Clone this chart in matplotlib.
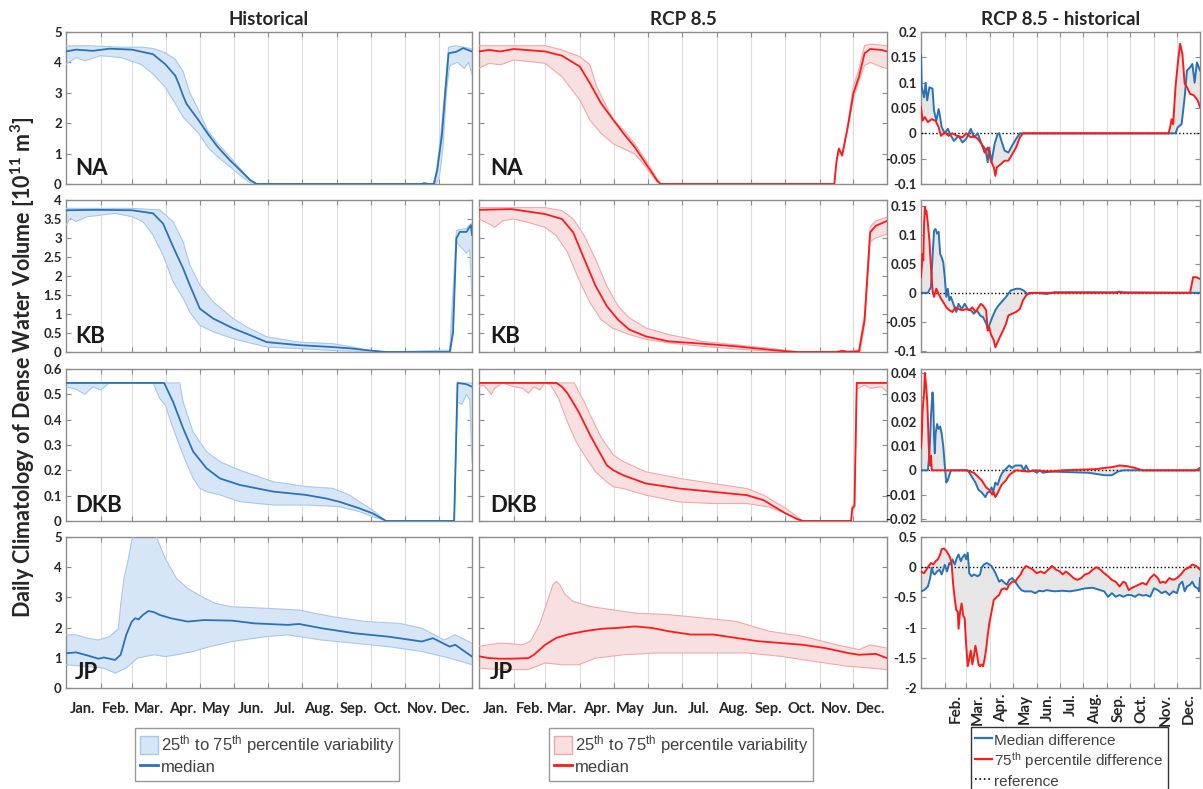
import numpy as np
import matplotlib
matplotlib.use("Agg")
import matplotlib.pyplot as plt
from matplotlib.patches import Patch
from matplotlib.lines import Line2D

plt.rcParams["font.family"] = ["Lato", "DejaVu Sans"]
plt.rcParams["mathtext.default"] = "regular"
plt.rcParams["axes.unicode_minus"] = False

# ---------------- data: (day of year, value) ----------------
month_start = [1, 32, 60, 91, 121, 152, 182, 213, 244, 274, 305, 335]
month_mid = [16, 46, 75, 106, 136, 167, 197, 228, 259, 289, 320, 350]
month_names = ["Jan.", "Feb.", "Mar.", "Apr.", "May", "Jun.", "Jul.",
               "Aug.", "Sep.", "Oct.", "Nov.", "Dec."]
regions = ["NA", "KB", "DKB", "JP"]

# historical: median / 25th / 75th percentile  [10^11 m^3]
na_hist_med = [(1, 4.36), (10, 4.42), (25, 4.38), (40, 4.45), (60, 4.42), (79, 4.27), (90, 3.94), (99, 3.56),
               (102, 3.30), (106, 2.90), (109, 2.64), (120, 2.09), (128, 1.66), (137, 1.22), (148, 0.78),
               (157, 0.46), (166, 0.13), (172, 0.0), (320, 0.0), (322, 0.03), (326, 0.0), (331, 0.0),
               (334, 0.5), (338, 1.6), (341, 3.0), (344, 4.3), (351, 4.35), (357, 4.47), (365, 4.36)]
na_hist_lo = [(1, 3.94), (10, 4.16), (18, 4.05), (32, 4.22), (50, 4.16), (68, 3.94), (79, 3.62), (90, 3.18),
              (99, 2.64), (106, 2.2), (120, 1.66), (128, 1.22), (137, 0.89), (148, 0.57), (157, 0.29),
              (166, 0.04), (170, 0.0), (333, 0.0), (336, 0.3), (339, 1.2), (342, 3.0), (345, 3.9),
              (352, 4.0), (358, 3.8), (362, 4.0), (365, 3.6)]
na_hist_hi = [(1, 4.54), (20, 4.55), (50, 4.5), (70, 4.5), (80, 4.45), (90, 4.32), (99, 4.1), (106, 3.7),
              (112, 3.0), (120, 2.42), (128, 1.76), (137, 1.33), (148, 0.89), (157, 0.51), (166, 0.15),
              (172, 0.0), (330, 0.0), (333, 0.4), (337, 1.6), (341, 3.2), (344, 4.5), (350, 4.55), (365, 4.45)]

kb_hist_med = [(1, 3.73), (30, 3.74), (60, 3.73), (79, 3.65), (88, 3.38), (97, 2.77), (106, 2.2), (112, 1.76),
               (121, 1.14), (133, 0.88), (151, 0.62), (163, 0.48), (181, 0.26), (210, 0.18), (240, 0.13),
               (258, 0.09), (273, 0.04), (288, 0.0), (345, 0.0), (348, 0.5), (351, 2.99), (354, 3.16),
               (360, 3.16), (364, 3.34), (365, 3.08)]
kb_hist_lo = [(1, 3.34), (5, 3.52), (10, 3.43), (20, 3.56), (32, 3.6), (45, 3.65), (60, 3.56), (70, 3.43),
              (79, 3.08), (88, 2.55), (97, 1.85), (106, 1.41), (112, 1.05), (121, 0.7), (133, 0.53),
              (151, 0.35), (163, 0.26), (181, 0.13), (210, 0.09), (240, 0.04), (258, 0.02), (273, 0.0),
              (346, 0.0), (351, 2.9), (354, 2.8), (360, 2.6), (363, 2.7), (365, 1.4)]
kb_hist_hi = [(1, 3.78), (60, 3.78), (85, 3.74), (97, 3.43), (106, 2.9), (112, 2.29), (121, 1.76), (133, 1.32),
              (151, 0.88), (163, 0.66), (181, 0.40), (210, 0.26), (240, 0.22), (258, 0.13), (273, 0.04),
              (288, 0.0), (345, 0.05), (351, 3.2), (360, 3.25), (365, 3.4)]

dkb_hist_med = [(1, 0.545), (89, 0.545), (97, 0.47), (106, 0.366), (115, 0.274), (127, 0.208), (139, 0.168),
                (157, 0.142), (187, 0.116), (216, 0.103), (234, 0.089), (246, 0.076), (264, 0.05), (276, 0.03),
                (288, 0.0), (349, 0.0), (352, 0.545), (360, 0.54), (365, 0.53)]
dkb_hist_lo = [(1, 0.53), (10, 0.52), (18, 0.50), (25, 0.53), (32, 0.517), (40, 0.545), (79, 0.545),
               (85, 0.484), (90, 0.458), (97, 0.366), (106, 0.26), (115, 0.168), (121, 0.129), (127, 0.116),
               (139, 0.103), (157, 0.076), (187, 0.063), (216, 0.063), (246, 0.057), (264, 0.037),
               (276, 0.017), (288, 0.0), (349, 0.0), (352, 0.47), (356, 0.46), (360, 0.50), (363, 0.48),
               (365, 0.23)]
dkb_hist_hi = [(1, 0.545), (103, 0.545), (106, 0.47), (115, 0.35), (127, 0.274), (139, 0.234), (157, 0.2),
               (187, 0.155), (216, 0.136), (240, 0.129), (255, 0.103), (264, 0.076), (276, 0.043), (288, 0.0),
               (349, 0.0), (352, 0.545), (365, 0.545)]

jp_hist_med = [(1, 1.15), (10, 1.18), (20, 1.08), (30, 0.97), (35, 1.01), (45, 0.93), (50, 1.1), (55, 1.76),
               (60, 2.2), (63, 2.31), (66, 2.27), (70, 2.42), (75, 2.55), (80, 2.51), (85, 2.42), (95, 2.31),
               (110, 2.2), (125, 2.25), (150, 2.23), (170, 2.14), (200, 2.09), (210, 2.12), (230, 1.98),
               (260, 1.81), (290, 1.70), (320, 1.54), (330, 1.65), (345, 1.37), (350, 1.43), (365, 1.04)]
jp_hist_lo = [(1, 0.77), (20, 0.71), (35, 0.66), (45, 0.49), (55, 0.66), (65, 0.99), (80, 1.1), (90, 1.04),
              (100, 1.1), (115, 1.21), (130, 1.37), (150, 1.54), (180, 1.7), (200, 1.76), (230, 1.59),
              (260, 1.48), (290, 1.37), (320, 1.21), (345, 0.99), (365, 0.77)]
jp_hist_hi = [(1, 1.76), (10, 1.76), (20, 1.65), (30, 1.59), (40, 1.70), (45, 1.87), (48, 1.96), (50, 2.75),
              (53, 3.63), (57, 4.29), (60, 4.89), (63, 5.2), (80, 5.2), (85, 4.73), (90, 4.29), (100, 3.63),
              (110, 3.3), (120, 3.08), (135, 2.8), (150, 2.69), (180, 2.64), (210, 2.58), (240, 2.36),
              (270, 2.2), (300, 2.14), (320, 1.98), (340, 1.59), (350, 1.76), (365, 1.48)]

# RCP 8.5: median / 25th / 75th percentile
na_rcp_med = [(1, 4.36), (10, 4.41), (20, 4.36), (32, 4.44), (60, 4.36), (75, 4.22), (91, 3.86), (100, 3.31),
              (110, 2.65), (121, 2.1), (130, 1.66), (140, 1.21), (150, 0.66), (160, 0.11), (163, 0.0),
              (318, 0.0), (320, 0.77), (322, 1.16), (325, 0.94), (330, 1.88), (335, 2.98), (340, 3.53),
              (345, 4.3), (350, 4.44), (360, 4.41), (365, 4.36)]
na_rcp_lo = [(1, 3.81), (10, 3.97), (20, 3.92), (32, 4.08), (45, 4.03), (60, 3.97), (75, 3.53), (91, 2.76),
             (100, 2.1), (110, 1.66), (121, 1.32), (130, 1.16), (140, 0.99), (150, 0.55), (160, 0.06),
             (163, 0.0), (318, 0.0), (320, 0.7), (322, 1.1), (325, 0.9), (330, 1.8), (335, 2.8), (340, 3.4),
             (345, 3.9), (350, 4.0), (360, 3.85), (365, 3.8)]
na_rcp_hi = [(1, 4.55), (60, 4.55), (75, 4.41), (91, 4.19), (100, 3.92), (106, 3.2), (115, 2.54), (121, 2.1),
             (130, 1.77), (140, 1.32), (150, 0.77), (160, 0.17), (163, 0.0), (318, 0.0), (320, 0.8),
             (322, 1.2), (325, 1.0), (330, 1.95), (335, 3.2), (340, 3.8), (345, 4.55), (350, 4.6), (365, 4.55)]

kb_rcp_med = [(1, 3.74), (30, 3.76), (60, 3.63), (75, 3.5), (85, 3.15), (95, 2.44), (105, 1.74), (115, 1.21),
              (125, 0.85), (135, 0.59), (150, 0.41), (170, 0.28), (200, 0.22), (230, 0.15), (260, 0.06),
              (275, 0.02), (285, 0.0), (320, 0.0), (325, 0.03), (330, 0.0), (340, 0.02), (345, 0.85),
              (350, 3.15), (355, 3.32), (365, 3.45)]
kb_rcp_lo = [(1, 3.5), (10, 3.37), (15, 3.28), (22, 3.45), (32, 3.5), (45, 3.41), (60, 3.28), (70, 3.06),
             (80, 2.62), (90, 1.91), (100, 1.3), (110, 0.85), (120, 0.63), (135, 0.46), (150, 0.33),
             (170, 0.24), (200, 0.15), (230, 0.08), (260, 0.02), (285, 0.0), (341, 0.0), (345, 0.7),
             (350, 2.9), (355, 3.0), (365, 3.1)]
kb_rcp_hi = [(1, 3.8), (60, 3.8), (75, 3.72), (85, 3.5), (95, 3.06), (105, 2.44), (115, 1.74), (125, 1.21),
             (135, 0.9), (150, 0.63), (170, 0.46), (200, 0.28), (230, 0.19), (260, 0.1), (285, 0.0),
             (320, 0.0), (325, 0.04), (330, 0.02), (340, 0.05), (345, 1.0), (350, 3.3), (355, 3.45), (365, 3.55)]

dkb_rcp_med = [(1, 0.545), (70, 0.545), (75, 0.53), (80, 0.504), (90, 0.43), (100, 0.34), (110, 0.26),
               (115, 0.22), (121, 0.2), (130, 0.18), (150, 0.148), (180, 0.128), (210, 0.115), (240, 0.102),
               (255, 0.082), (265, 0.055), (275, 0.029), (285, 0.007), (290, 0.0), (333, 0.0), (334, 0.05),
               (336, 0.06), (338, 0.545), (365, 0.545)]
dkb_rcp_lo = [(1, 0.53), (5, 0.537), (12, 0.5), (15, 0.524), (22, 0.545), (32, 0.53), (40, 0.524), (45, 0.504),
              (50, 0.53), (55, 0.517), (60, 0.545), (65, 0.537), (72, 0.484), (80, 0.39), (88, 0.31),
              (95, 0.26), (105, 0.194), (115, 0.154), (121, 0.135), (130, 0.128), (150, 0.102), (180, 0.075),
              (210, 0.069), (240, 0.069), (260, 0.055), (275, 0.029), (285, 0.01), (290, 0.0), (333, 0.0),
              (334, 0.04), (336, 0.05), (338, 0.52), (345, 0.537), (350, 0.524), (360, 0.53), (365, 0.51)]
dkb_rcp_hi = [(1, 0.545), (86, 0.545), (90, 0.51), (95, 0.47), (100, 0.42), (110, 0.33), (121, 0.26),
              (130, 0.234), (150, 0.194), (180, 0.168), (210, 0.148), (240, 0.128), (255, 0.102), (265, 0.075),
              (275, 0.049), (285, 0.016), (290, 0.0), (333, 0.0), (334, 0.06), (336, 0.07), (338, 0.545),
              (365, 0.545)]

jp_rcp_med = [(1, 1.05), (10, 0.99), (20, 0.97), (30, 0.97), (45, 0.99), (50, 1.1), (60, 1.43), (70, 1.66),
              (80, 1.77), (95, 1.88), (110, 1.96), (125, 1.99), (140, 2.04), (155, 1.99), (170, 1.88),
              (190, 1.77), (210, 1.77), (230, 1.66), (250, 1.55), (270, 1.49), (290, 1.43), (310, 1.32),
              (330, 1.16), (340, 1.1), (355, 1.13), (365, 0.99)]
jp_rcp_lo = [(1, 0.66), (20, 0.61), (45, 0.61), (60, 0.83), (75, 0.77), (90, 0.77), (105, 0.99), (130, 1.1),
             (160, 1.16), (200, 1.16), (240, 1.16), (270, 1.05), (300, 0.88), (330, 0.72), (350, 0.66),
             (365, 0.61)]
jp_rcp_hi = [(1, 1.38), (20, 1.49), (40, 1.43), (47, 1.55), (55, 2.1), (62, 2.87), (67, 3.42), (70, 3.53),
             (73, 3.42), (78, 3.09), (85, 2.87), (100, 2.7), (120, 2.59), (140, 2.48), (170, 2.43),
             (200, 2.32), (230, 2.21), (260, 1.88), (290, 1.71), (320, 1.43), (340, 1.27), (350, 1.43),
             (365, 1.32)]

# RCP 8.5 - historical: median difference / 75th percentile difference
na_diff_med = [(1, 0.154), (2, 0.091), (5, 0.071), (7, 0.1), (9, 0.065), (12, 0.091), (16, 0.088), (18, 0.045),
               (21, 0.025), (24, 0.048), (26, 0.032), (28, 0.012), (32, 0.0), (36, 0.009), (40, -0.005),
               (44, -0.015), (50, -0.005), (55, -0.018), (60, -0.011), (66, 0.009), (70, -0.008), (75, 0.0),
               (80, -0.021), (85, -0.031), (88, -0.057), (90, -0.028), (93, -0.057), (97, -0.021),
               (101, -0.001), (103, 0.0), (106, -0.015), (110, -0.034), (115, -0.038), (120, -0.024),
               (125, -0.011), (130, 0.0), (333, 0.0), (336, 0.012), (341, 0.018), (345, 0.071), (348, 0.124),
               (352, 0.13), (355, 0.137), (358, 0.1), (361, 0.14), (365, 0.124)]
na_diff_p75 = [(1, 0.052), (3, 0.025), (6, 0.032), (10, 0.022), (15, 0.028), (20, 0.025), (24, 0.012),
               (27, -0.005), (32, 0.002), (37, -0.005), (42, 0.0), (48, -0.005), (55, -0.008), (60, 0.0),
               (66, -0.008), (70, -0.005), (75, -0.011), (80, -0.021), (84, -0.038), (88, -0.028),
               (92, -0.054), (96, -0.067), (98, -0.084), (100, -0.067), (105, -0.061), (110, -0.054),
               (115, -0.054), (120, -0.041), (125, -0.028), (130, -0.008), (134, 0.0), (324, 0.0),
               (326, 0.012), (328, 0.028), (330, 0.018), (333, 0.091), (336, 0.137), (339, 0.177),
               (342, 0.157), (345, 0.098), (348, 0.091), (352, 0.078), (357, 0.075), (362, 0.065), (365, 0.052)]

kb_diff_med = [(1, 0.0), (10, 0.0), (14, 0.01), (16, 0.061), (18, 0.107), (20, 0.11), (22, 0.102), (24, 0.105),
               (26, 0.067), (28, 0.061), (30, 0.053), (32, 0.027), (34, -0.007), (36, 0.007), (38, -0.013),
               (40, -0.007), (44, -0.022), (47, -0.033), (50, -0.019), (54, -0.028), (58, -0.019),
               (62, -0.028), (66, -0.03), (70, -0.036), (74, -0.03), (78, -0.039), (82, -0.042), (86, -0.053),
               (88, -0.062), (90, -0.056), (94, -0.042), (98, -0.03), (102, -0.022), (106, -0.016),
               (108, -0.013), (112, -0.007), (118, 0.004), (125, 0.007), (130, 0.007), (135, 0.004),
               (140, -0.002), (150, 0.0), (165, -0.002), (175, 0.001), (230, 0.001), (365, 0.0)]
kb_diff_p75 = [(1, 0.027), (2, 0.044), (3, 0.067), (4, 0.056), (5, 0.119), (6, 0.148), (7, 0.136), (8, 0.142),
               (10, 0.119), (12, 0.09), (14, 0.044), (16, 0.004), (18, -0.007), (21, 0.007), (24, -0.002),
               (27, -0.01), (30, -0.016), (34, -0.025), (38, -0.03), (42, -0.033), (46, -0.025), (50, -0.028),
               (55, -0.03), (60, -0.028), (64, -0.03), (68, -0.025), (72, -0.033), (76, -0.025), (79, -0.019),
               (82, -0.022), (86, -0.03), (88, -0.065), (90, -0.059), (92, -0.071), (96, -0.082),
               (98, -0.094), (100, -0.088), (104, -0.076), (108, -0.065), (112, -0.053), (115, -0.039),
               (120, -0.036), (125, -0.033), (130, -0.028), (134, -0.013), (138, -0.005), (142, 0.0),
               (255, 0.0), (260, 0.002), (265, 0.0), (352, 0.0), (356, 0.027), (360, 0.027), (365, 0.024)]

dkb_diff_med = [(1, 0.0), (10, 0.0), (12, 0.007), (14, 0.022), (16, 0.032), (17, 0.028), (18, 0.014),
                (19, 0.007), (20, 0.015), (22, 0.019), (24, 0.017), (26, 0.018), (28, 0.015), (30, 0.01),
                (32, 0.002), (34, -0.005), (36, -0.004), (38, -0.002), (40, 0.0), (62, 0.0), (66, -0.002),
                (72, -0.005), (76, -0.008), (80, -0.009), (85, -0.011), (88, -0.009), (90, -0.009),
                (93, -0.007), (95, -0.009), (98, -0.005), (101, -0.006), (104, -0.003), (107, -0.001),
                (110, 0.0), (113, 0.001), (116, 0.002), (120, 0.001), (124, 0.002), (128, 0.002), (132, 0.002),
                (135, 0.0), (138, 0.002), (142, -0.0005), (147, 0.0), (152, -0.001), (156, 0.0), (160, -0.001),
                (170, -0.0005), (220, -0.001), (240, -0.002), (250, -0.002), (258, -0.0005), (265, 0.0),
                (365, 0.0)]
dkb_diff_p75 = [(1, 0.009), (2, 0.014), (3, 0.024), (5, 0.032), (6, 0.04), (7, 0.037), (8, 0.033), (9, 0.029),
                (10, 0.021), (11, 0.011), (12, 0.004), (13, 0.002), (14, 0.006), (15, 0.0), (60, 0.0),
                (70, -0.001), (80, -0.004), (86, -0.007), (90, -0.008), (94, -0.01), (96, -0.009),
                (98, -0.011), (100, -0.01), (103, -0.008), (106, -0.006), (109, -0.005), (112, -0.004),
                (116, -0.002), (120, -0.001), (125, 0.0), (140, -0.0005), (150, 0.0), (170, -0.0005),
                (185, 0.0), (230, 0.0005), (240, 0.001), (250, 0.0013), (260, 0.002), (270, 0.0017),
                (280, 0.001), (290, 0.0), (360, 0.0), (365, 0.001)]

jp_diff_med = [(1, -0.4), (5, -0.38), (10, -0.32), (13, -0.18), (15, -0.01), (17, -0.1), (19, -0.12),
               (22, -0.07), (25, -0.04), (28, -0.12), (32, 0.04), (35, -0.07), (38, 0.07), (40, 0.045),
               (42, 0.13), (45, 0.045), (48, 0.16), (50, 0.21), (53, 0.1), (55, 0.16), (58, 0.21), (60, 0.13),
               (62, 0.24), (64, -0.1), (67, -0.15), (70, -0.12), (75, -0.15), (78, -0.12), (80, -0.01),
               (83, 0.045), (87, 0.07), (90, 0.045), (93, 0.02), (97, -0.07), (100, -0.15), (103, -0.24),
               (106, -0.21), (110, -0.26), (113, -0.29), (116, -0.21), (120, -0.18), (124, -0.24),
               (128, -0.32), (132, -0.38), (136, -0.4), (145, -0.4), (150, -0.43), (155, -0.39), (160, -0.4),
               (165, -0.38), (175, -0.4), (185, -0.39), (195, -0.4), (205, -0.38), (215, -0.35), (225, -0.34),
               (235, -0.38), (240, -0.4), (245, -0.49), (250, -0.43), (255, -0.49), (260, -0.46),
               (265, -0.49), (270, -0.46), (275, -0.46), (280, -0.49), (285, -0.45), (290, -0.47),
               (295, -0.46), (300, -0.49), (305, -0.35), (310, -0.38), (315, -0.43), (320, -0.4),
               (325, -0.46), (330, -0.4), (335, -0.43), (338, -0.29), (342, -0.24), (345, -0.4),
               (348, -0.32), (352, -0.29), (355, -0.24), (358, -0.32), (362, -0.35), (364, -0.4), (365, -0.18)]
jp_diff_p75 = [(1, -0.07), (5, -0.1), (8, -0.04), (11, 0.02), (14, 0.07), (17, 0.045), (20, 0.1), (23, 0.13),
               (26, 0.21), (28, 0.3), (31, 0.31), (34, 0.27), (37, 0.21), (39, 0.16), (41, 0.045), (43, -0.29),
               (45, -0.52), (47, -0.71), (49, -0.74), (50, -1.02), (52, -0.74), (54, -0.6), (56, -0.8),
               (58, -0.85), (59, -1.08), (60, -1.3), (62, -1.64), (64, -1.52), (66, -1.38), (68, -1.61),
               (70, -1.47), (72, -1.3), (74, -1.44), (76, -1.61), (78, -1.64), (80, -1.61), (82, -1.64),
               (84, -1.52), (86, -1.36), (88, -1.13), (90, -0.94), (93, -0.74), (96, -0.54), (100, -0.49),
               (103, -0.46), (106, -0.37), (110, -0.35), (113, -0.37), (116, -0.29), (120, -0.24),
               (124, -0.24), (127, -0.18), (131, -0.12), (134, -0.04), (138, 0.02), (143, -0.01),
               (147, -0.04), (152, -0.1), (157, -0.07), (162, -0.1), (167, -0.04), (172, 0.02), (177, -0.04),
               (182, -0.07), (186, -0.12), (190, -0.07), (195, -0.12), (200, -0.18), (205, -0.21),
               (210, -0.18), (215, -0.12), (220, -0.1), (225, -0.04), (230, 0.0), (235, -0.04), (240, -0.1),
               (245, -0.15), (250, -0.21), (255, -0.24), (260, -0.32), (265, -0.24), (268, -0.26),
               (272, -0.38), (275, -0.35), (280, -0.32), (285, -0.29), (290, -0.26), (295, -0.29),
               (300, -0.18), (305, -0.12), (310, -0.18), (313, -0.26), (317, -0.24), (320, -0.26),
               (325, -0.18), (330, -0.21), (335, -0.18), (340, -0.12), (345, -0.04), (350, -0.01),
               (355, 0.045), (360, 0.02), (365, -0.04)]

abs_ylim = [(0, 5), (0, 4), (0, 0.6), (0, 5)]
abs_yticks = [[0, 1, 2, 3, 4, 5], [0, 0.5, 1, 1.5, 2, 2.5, 3, 3.5, 4],
              [0, 0.1, 0.2, 0.3, 0.4, 0.5, 0.6], [0, 1, 2, 3, 4, 5]]
diff_ylim = [(-0.1, 0.2), (-0.102, 0.16), (-0.0208, 0.0416), (-2, 0.5)]
diff_yticks = [[-0.1, -0.05, 0, 0.05, 0.1, 0.15, 0.2], [-0.1, -0.05, 0, 0.05, 0.1, 0.15],
               [-0.02, -0.01, 0, 0.01, 0.02, 0.03, 0.04], [-2, -1.5, -1, -0.5, 0, 0.5]]

hist = [(na_hist_lo, na_hist_hi, na_hist_med), (kb_hist_lo, kb_hist_hi, kb_hist_med),
        (dkb_hist_lo, dkb_hist_hi, dkb_hist_med), (jp_hist_lo, jp_hist_hi, jp_hist_med)]
rcp = [(na_rcp_lo, na_rcp_hi, na_rcp_med), (kb_rcp_lo, kb_rcp_hi, kb_rcp_med),
       (dkb_rcp_lo, dkb_rcp_hi, dkb_rcp_med), (jp_rcp_lo, jp_rcp_hi, jp_rcp_med)]
diff = [(na_diff_med, na_diff_p75), (kb_diff_med, kb_diff_p75),
        (dkb_diff_med, dkb_diff_p75), (jp_diff_med, jp_diff_p75)]

# ---------------- style ----------------
BLUE, BLUE_FILL, BLUE_EDGE = "#2a72b8", "#d6e6f7", "#a8c8ea"
RED, RED_FILL, RED_EDGE = "#ff1a1a", "#f8e0e0", "#f2a8a8"
GRAY_FILL = "#e6e6e6"
SPINE = "#8c8c8c"
TXT = "#262626"

W, H = 1203, 789
fig = plt.figure(figsize=(W / 100, H / 100), dpi=100)
cols = [(66, 472), (479, 887), (921, 1200)]
rows = [(32, 184), (200, 352), (369, 521), (537, 688)]


def add_ax(c, r):
    x0, x1 = cols[c]
    y0, y1 = rows[r]
    return fig.add_axes([x0 / W, 1 - y1 / H, (x1 - x0) / W, (y1 - y0) / H])


def split(pairs):
    a = np.array(pairs, dtype=float)
    return a[:, 0], a[:, 1]


def base_style(ax):
    ax.set_xlim(1, 365)
    ax.set_xticks(month_start[1:])
    ax.xaxis.grid(True, color="#dcdcdc", lw=0.8)
    ax.set_axisbelow(True)
    for s in ax.spines.values():
        s.set_color(SPINE)
        s.set_linewidth(1.0)
    ax.tick_params(which="major", direction="in", length=3.5, top=True, right=True,
                   color=SPINE, labelbottom=False, labelsize=9.5, labelcolor=TXT, pad=3)
    for lab in ax.get_yticklabels():
        lab.set_fontweight("bold")


def band(ax, lo, hi, med, line_c, fill_c, edge_c):
    xl, yl = split(lo)
    xh, yh = split(hi)
    xm, ym = split(med)
    ax.fill(np.r_[xh, xl[::-1]], np.r_[yh, yl[::-1]], color=fill_c, lw=0, zorder=2)
    ax.plot(xl, yl, color=edge_c, lw=0.8, zorder=3)
    ax.plot(xh, yh, color=edge_c, lw=0.8, zorder=3)
    ax.plot(xm, ym, color=line_c, lw=1.3, zorder=4)


for r in range(4):
    # absolute panels
    for c, (series, lc, fc, ec) in enumerate([(hist, BLUE, BLUE_FILL, BLUE_EDGE),
                                               (rcp, RED, RED_FILL, RED_EDGE)]):
        ax = add_ax(c, r)
        lo, hi, med = series[r]
        band(ax, lo, hi, med, lc, fc, ec)
        ax.set_ylim(*abs_ylim[r])
        ax.set_yticks(abs_yticks[r])
        ax.set_yticklabels(["%g" % v for v in abs_yticks[r]])
        base_style(ax)
        if c == 1:
            ax.tick_params(labelleft=False)
        ax.text(0.022 if c == 0 else 0.027, 0.035, regions[r], transform=ax.transAxes,
                fontsize=16, fontweight="bold", color="#1a1a1a", ha="left", va="bottom", zorder=6)
        if r == 3:
            ax.set_xticks(month_mid, minor=True)
            ax.set_xticklabels(month_names, minor=True)
            ax.tick_params(which="minor", length=0, pad=10, labelsize=10.5, labelcolor=TXT)
            for lab in ax.get_xticklabels(minor=True):
                lab.set_fontweight("bold")
        if r == 0:
            ax.set_title(["Historical", "RCP 8.5"][c], fontsize=13.5, fontweight="bold",
                         color=TXT, pad=5)

    # difference panels
    ax = add_ax(2, r)
    dm, dp = diff[r]
    xb, yb = split(dm)
    xr, yr = split(dp)
    ax.fill(np.r_[xb, xr[::-1]], np.r_[yb, yr[::-1]], color=GRAY_FILL, lw=0, zorder=2)
    ax.axhline(0, color="k", ls=":", lw=1.0, zorder=3)
    ax.plot(xb, yb, color=BLUE, lw=1.4, zorder=4)
    ax.plot(xr, yr, color=RED, lw=1.4, zorder=5)
    ax.set_ylim(*diff_ylim[r])
    ax.set_yticks(diff_yticks[r])
    ax.set_yticklabels(["%g" % v for v in diff_yticks[r]])
    base_style(ax)
    if r == 3:
        ax.set_xticks(month_mid[1:], minor=True)
        ax.set_xticklabels(month_names[1:], minor=True, rotation=90)
        ax.tick_params(which="minor", length=0, pad=4, labelsize=11, labelcolor=TXT)
        for lab in ax.get_xticklabels(minor=True):
            lab.set_fontweight("bold")
    if r == 0:
        ax.set_title("RCP 8.5 - historical", fontsize=13.5, fontweight="bold", color=TXT, pad=5)

fig.text(0.019, 0.535, "Daily Climatology of Dense Water Volume [10$^{11}$ m$^{3}$]",
         rotation=90, ha="center", va="center", fontsize=15.5, fontweight="bold", color=TXT)

# ---------------- legends ----------------
leg_kw = dict(loc="upper center", bbox_transform=fig.transFigure, borderaxespad=0,
              fancybox=False, framealpha=1, handlelength=1.1, handleheight=1.3,
              handletextpad=0.15, labelspacing=0.1, borderpad=0.3)
pct_label = "25$^{th}$ to 75$^{th}$ percentile variability"
for cx, lc, fc, ec in [(0.222, BLUE, BLUE_FILL, BLUE_EDGE), (0.566, RED, RED_FILL, RED_EDGE)]:
    leg = fig.legend([Patch(facecolor=fc, edgecolor=ec, lw=1.0), Line2D([], [], color=lc, lw=2)],
                     [pct_label, "median"], bbox_to_anchor=(cx, 1 - 728 / H),
                     prop={"family": "Liberation Sans", "size": 12}, **leg_kw)
    leg.get_frame().set_edgecolor("#999999")
    leg.get_frame().set_linewidth(1.0)
    for t in leg.get_texts():
        t.set_color("#404040")

leg = fig.legend([Line2D([], [], color=BLUE, lw=1.6), Line2D([], [], color=RED, lw=1.6),
                  Line2D([], [], color="k", ls=":", lw=1.2)],
                 ["Median difference", "75$^{th}$ percentile difference", "reference"],
                 bbox_to_anchor=(0.889, 1 - 727 / H),
                 prop={"family": "Liberation Sans", "size": 11}, **leg_kw)
leg.get_frame().set_edgecolor("#333333")
leg.get_frame().set_linewidth(1.0)
for t in leg.get_texts():
    t.set_color("#404040")

fig.savefig("out.png", dpi=100)
